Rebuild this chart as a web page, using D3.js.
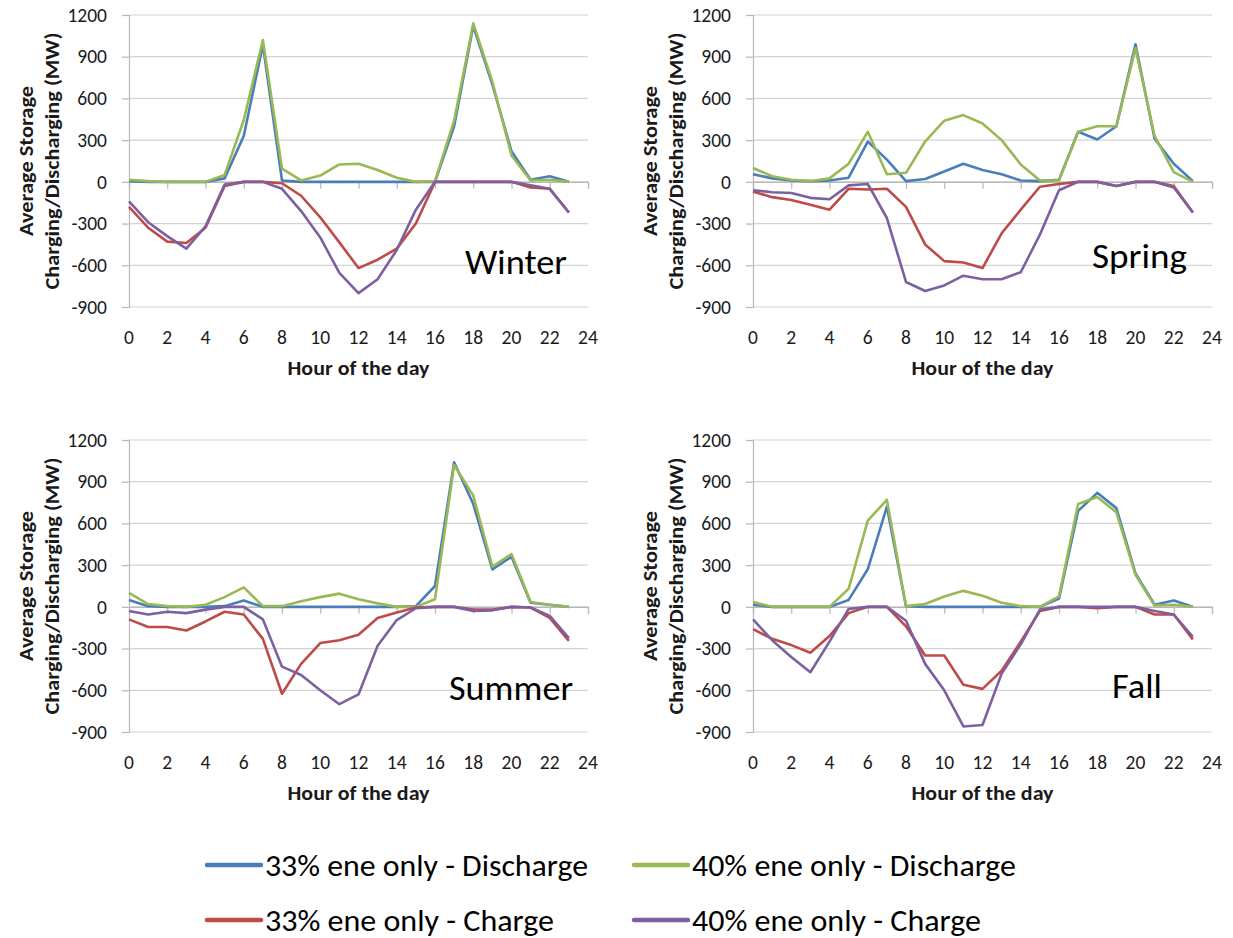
<!DOCTYPE html>
<html>
<head>
<meta charset="utf-8">
<script src="https://cdn.jsdelivr.net/npm/d3@7"></script>
<style>
  html, body { margin: 0; padding: 0; background: #fff; }
  svg { display: block; font-family: Carlito, Calibri, Lato, sans-serif; }
</style>
</head>
<body>
<svg id="chart" width="1233" height="938"></svg>
<script>
// Hours, ticks and labels
const hours = d3.range(0, 24);
const xTickValues = d3.range(0, 25, 2);
const yTickValues = [-900, -600, -300, 0, 300, 600, 900, 1200];
const seasons = ["Winter", "Spring", "Summer", "Fall"];
const seriesLabels = [
  "33% ene only - Discharge",
  "40% ene only - Discharge",
  "33% ene only - Charge",
  "40% ene only - Charge"
];
const seriesColors = ["#4A7EBB", "#98B954", "#BE4B48", "#7D60A0"];

// Average storage charging / discharging (MW) by hour
const winterDischarge33 = [5, 0, 0, 0, 0, 25, 330, 985, 10, 0, 0, 0, 0, 0, 0, 0, 0, 400, 1120, 700, 220, 15, 40, 0];
const winterDischarge40 = [15, 5, 0, 0, 0, 50, 445, 1020, 95, 10, 45, 125, 130, 85, 30, 0, 5, 440, 1140, 720, 190, 10, 15, 0];
const winterCharge33 = [-180, -330, -430, -440, -330, -30, 0, 0, -10, -100, -255, -435, -620, -560, -480, -300, 0, 0, 0, 0, 0, -40, -50, -220];
const winterCharge40 = [-140, -290, -390, -480, -320, -20, 0, 0, -50, -210, -400, -655, -800, -700, -490, -200, 0, 0, 0, 0, 0, -25, -50, -220];

const springDischarge33 = [55, 25, 10, 5, 10, 30, 290, 160, 5, 20, 75, 130, 85, 55, 10, 5, 15, 360, 305, 400, 990, 310, 130, 5];
const springDischarge40 = [100, 40, 15, 5, 25, 130, 360, 55, 65, 290, 440, 480, 420, 300, 125, 10, 10, 360, 400, 400, 960, 330, 70, 0];
const springCharge33 = [-70, -110, -130, -165, -200, -50, -55, -50, -180, -450, -570, -580, -620, -370, -200, -35, -15, 0, 0, -30, 0, 0, -30, -220];
const springCharge40 = [-60, -75, -80, -115, -125, -25, -15, -260, -720, -785, -745, -675, -700, -700, -650, -380, -60, 0, 0, -30, 0, 0, -40, -220];

const summerDischarge33 = [50, 5, 0, 0, 0, 5, 45, 0, 0, 0, 0, 0, 0, 0, 0, 5, 150, 1040, 740, 270, 360, 30, 15, 0];
const summerDischarge40 = [100, 20, 5, 0, 15, 70, 140, 5, 5, 40, 70, 95, 55, 25, 0, 0, 55, 1020, 800, 290, 380, 35, 15, 0];
const summerCharge33 = [-90, -145, -145, -170, -105, -35, -55, -230, -625, -410, -260, -240, -200, -80, -40, -5, 0, 0, -20, -20, 0, -5, -80, -245];
const summerCharge40 = [-30, -55, -35, -45, -20, 0, 0, -90, -430, -490, -600, -700, -630, -280, -95, -10, 0, 0, -30, -25, 0, -5, -65, -225];

const fallDischarge33 = [15, 0, 0, 0, 0, 50, 270, 720, 5, 0, 0, 0, 0, 0, 0, 0, 60, 690, 820, 710, 240, 15, 45, 0];
const fallDischarge40 = [35, 0, 0, 0, 0, 130, 620, 770, 5, 20, 75, 115, 80, 30, 5, 0, 75, 740, 790, 680, 230, 10, 15, 0];
const fallCharge33 = [-160, -230, -275, -330, -210, -45, 0, 0, -140, -350, -350, -560, -590, -460, -250, -30, 0, 0, -10, 0, 0, -55, -55, -235];
const fallCharge40 = [-90, -240, -360, -470, -250, -15, 0, 0, -100, -410, -600, -860, -850, -480, -270, -20, 0, 0, 0, 0, 0, -30, -55, -215];

const seasonSeries = {
  Winter: [winterDischarge33, winterDischarge40, winterCharge33, winterCharge40],
  Spring: [springDischarge33, springDischarge40, springCharge33, springCharge40],
  Summer: [summerDischarge33, summerDischarge40, summerCharge33, summerCharge40],
  Fall:   [fallDischarge33, fallDischarge40, fallCharge33, fallCharge40]
};

// Layout of the four panels (plot area origin) and season label placement
const plotW = 459, plotH = 292;
const panelLayout = {
  Winter: { left: 129, top: 15,  labelX: 336, labelY: 259, labelLen: 102 },
  Spring: { left: 753, top: 15,  labelX: 339, labelY: 253, labelLen: 95 },
  Summer: { left: 129, top: 440, labelX: 320, labelY: 260, labelLen: 124 },
  Fall:   { left: 753, top: 440, labelX: 359, labelY: 258, labelLen: 50 }
};

const svg = d3.select("#chart");
svg.append("rect").attr("width", 1233).attr("height", 938).attr("fill", "#fff");

const x = d3.scaleLinear().domain([0, 24]).range([0, plotW]);
const y = d3.scaleLinear().domain([-900, 1200]).range([plotH, 0]);

const line = d3.line()
  .x((d, i) => x(hours[i]))
  .y(d => y(d));

seasons.forEach(season => {
  const L = panelLayout[season];
  const g = svg.append("g").attr("transform", `translate(${L.left},${L.top})`);

  // horizontal gridlines
  g.append("g").selectAll("line").data(yTickValues).join("line")
    .attr("x1", 0).attr("x2", plotW)
    .attr("y1", d => y(d)).attr("y2", d => y(d))
    .attr("stroke", "#d3d3d3").attr("stroke-width", 1.2);

  // vertical axis with outward ticks (plain hyphen for negatives)
  const yAxis = d3.axisLeft(y).tickValues(yTickValues).tickSize(7).tickPadding(15)
    .tickFormat(d => String(d));
  const ya = g.append("g").call(yAxis);
  ya.select(".domain").attr("stroke", "#b8b8b8").attr("stroke-width", 1.2);
  ya.selectAll(".tick line").attr("stroke", "#b8b8b8").attr("stroke-width", 1.2);
  ya.selectAll(".tick text").attr("fill", "#1a1a1a").attr("font-size", 19.5)
    .attr("font-family", "Carlito, Calibri, Lato, sans-serif");

  // horizontal axis crossing at zero, tick marks below
  const xAxis = d3.axisBottom(x).tickValues(xTickValues).tickSize(7).tickFormat("");
  const xa = g.append("g").attr("transform", `translate(0,${y(0)})`).call(xAxis);
  xa.select(".domain").attr("stroke", "#b8b8b8").attr("stroke-width", 1.2);
  xa.selectAll(".tick line").attr("stroke", "#b8b8b8").attr("stroke-width", 1.2);

  // hour labels along the bottom of the plot
  g.append("g").selectAll("text").data(xTickValues).join("text")
    .attr("x", d => x(d)).attr("y", plotH + 37)
    .attr("text-anchor", "middle")
    .attr("font-size", 19.5).attr("fill", "#1a1a1a")
    .text(d => d);

  // axis titles
  g.append("text")
    .attr("x", plotW / 2).attr("y", plotH + 68)
    .attr("text-anchor", "middle").attr("font-weight", "bold")
    .attr("font-size", 20).attr("fill", "#1a1a1a")
    .attr("textLength", 142).attr("lengthAdjust", "spacingAndGlyphs")
    .text("Hour of the day");

  const yTitle = g.append("text")
    .attr("transform", `translate(${-96},${plotH / 2}) rotate(-90)`)
    .attr("text-anchor", "middle").attr("font-weight", "bold")
    .attr("font-size", 20).attr("fill", "#1a1a1a");
  yTitle.append("tspan").attr("x", 0).attr("y", 0)
    .attr("textLength", 150).attr("lengthAdjust", "spacingAndGlyphs")
    .text("Average Storage");
  yTitle.append("tspan").attr("x", 0).attr("y", 26)
    .attr("textLength", 257).attr("lengthAdjust", "spacingAndGlyphs")
    .text("Charging/Discharging (MW)");

  // series lines
  seasonSeries[season].forEach((vals, k) => {
    g.append("path")
      .datum(vals)
      .attr("d", line)
      .attr("fill", "none")
      .attr("stroke", seriesColors[k])
      .attr("stroke-width", 2.6)
      .attr("stroke-linejoin", "round");
  });

  // season name
  g.append("text")
    .attr("x", L.labelX).attr("y", L.labelY)
    .attr("font-size", 34).attr("fill", "#000")
    .attr("textLength", L.labelLen).attr("lengthAdjust", "spacingAndGlyphs")
    .text(season);
});

// Legend: two rows, two columns
const legendPos = [
  { x: 207, y: 865, len: 323 },
  { x: 634, y: 865, len: 324 },
  { x: 207, y: 920, len: 289 },
  { x: 634, y: 920, len: 289 }
];
const legend = svg.append("g");
seriesLabels.forEach((label, k) => {
  const p = legendPos[k];
  legend.append("line")
    .attr("x1", p.x).attr("x2", p.x + 54)
    .attr("y1", p.y).attr("y2", p.y)
    .attr("stroke", seriesColors[k]).attr("stroke-width", 4.5)
    .attr("stroke-linecap", "round");
  legend.append("text")
    .attr("x", p.x + 58).attr("y", p.y + 11)
    .attr("font-size", 30).attr("fill", "#000")
    .attr("textLength", p.len).attr("lengthAdjust", "spacingAndGlyphs")
    .text(label);
});
</script>
</body>
</html>
